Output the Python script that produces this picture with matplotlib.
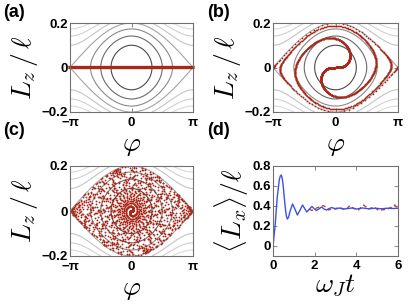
import numpy as np
import matplotlib
matplotlib.use('Agg')
import matplotlib.pyplot as plt

plt.rcParams['mathtext.fontset'] = 'cm'

# pendulum model: dphi/dt = Lz/I , dLz/dt = -J sin(phi)   (omega_J = 1)
I_mom = 0.1
J_cpl = 0.1
n_pts = 1500
t_b = 4 * np.pi     # snapshot (b)
t_c = 600.0         # snapshot (c)
levels = [-3, -2, -1, 0, 1, 2, 3]
level_grays = ['#4a4a4a', '#6a6a6a', '#8a8a8a', '#a4a4a4', '#c4c4c4', '#d0d0d0', '#dadada']

# panel (d)
t_blue = [0, 0.1, 0.2, 0.3, 0.35, 0.40, 0.45, 0.5, 0.58, 0.64, 0.69, 0.75, 0.82, 0.94,
          1.05, 1.17, 1.3, 1.42, 1.52, 1.62, 1.75, 1.87, 1.97, 2.08, 2.2, 2.33, 2.45,
          2.57, 2.7, 2.82, 3.0, 3.2, 3.4, 3.6, 3.8, 4.0, 4.3, 4.6, 4.9, 5.2, 5.5, 5.8, 6.0]
lx_blue = [0, 0.2, 0.48, 0.66, 0.70, 0.71, 0.67, 0.58, 0.40, 0.30, 0.27, 0.29, 0.35, 0.42,
           0.37, 0.31, 0.36, 0.41, 0.375, 0.34, 0.37, 0.395, 0.375, 0.355, 0.37, 0.39, 0.37,
           0.36, 0.375, 0.385, 0.37, 0.38, 0.37, 0.375, 0.38, 0.37, 0.38, 0.372, 0.378,
           0.372, 0.378, 0.375, 0.378]
t_red = [1.75, 1.85, 2.0, 2.15, 2.26, 2.42, 2.55, 2.66, 2.8, 3.0, 3.2, 3.35, 3.5, 3.7,
         3.8, 3.95, 4.1, 4.25, 4.35, 4.5, 4.6, 4.83, 4.95, 5.07, 5.2, 5.39, 5.55, 5.71,
         5.84, 5.92, 6.0]
lx_red = [0.37, 0.355, 0.37, 0.385, 0.39, 0.405, 0.385, 0.36, 0.37, 0.375, 0.385, 0.37,
          0.365, 0.405, 0.385, 0.37, 0.36, 0.39, 0.41, 0.385, 0.37, 0.39, 0.375, 0.355,
          0.36, 0.365, 0.375, 0.39, 0.41, 0.39, 0.42]

red = '#a8281a'
blue = '#3c50e6'
tick_font = {'family': 'Liberation Sans', 'weight': 'bold', 'size': 9.5}


def evolve(phi, lz, T, dt=0.02):
    n = int(round(T / dt))
    for _ in range(n):
        lz -= 0.5 * dt * J_cpl * np.sin(phi)
        phi += dt * lz / I_mom
        lz -= 0.5 * dt * J_cpl * np.sin(phi)
    return phi, lz


phi0 = np.linspace(-np.pi, np.pi, n_pts)
lz0 = np.zeros(n_pts)
phi_b, lz_b = evolve(phi0.copy(), lz0.copy(), t_b)
phi_c, lz_c = evolve(phi_b.copy(), lz_b.copy(), t_c - t_b)

pp, ll = np.meshgrid(np.linspace(-np.pi, np.pi, 300), np.linspace(-0.2, 0.2, 300))
energy = (ll / np.sqrt(I_mom * J_cpl)) ** 2 - 2 * (1 + np.cos(pp))

fig = plt.figure(figsize=(4.15, 3.07), dpi=100)
W, H = 415.0, 307.0
def add_ax(l, t, w, h):
    return fig.add_axes([l / W, 1 - (t + h) / H, w / W, h / H])

ax_a = add_ax(70, 23, 123, 89)
ax_b = add_ax(273, 23, 125, 89)
ax_c = add_ax(70, 166, 123, 90)
ax_d = add_ax(273, 166, 125, 90)


def style(ax, xpad=1.5):
    for s in ax.spines.values():
        s.set_color('#707070')
        s.set_linewidth(0.8)
    ax.tick_params(direction='in', length=3, width=0.6, color='#707070',
                   top=True, right=True, pad=1.5)
    ax.tick_params(axis='x', pad=xpad)
    for lab in ax.get_xticklabels() + ax.get_yticklabels():
        lab.set_fontproperties(matplotlib.font_manager.FontProperties(**tick_font))


for ax in (ax_a, ax_b, ax_c):
    ax.contour(pp, ll, energy, levels=levels, colors=level_grays, linewidths=0.8)
    ax.set_xlim(-np.pi, np.pi)
    ax.set_ylim(-0.2, 0.2)
    ax.set_xticks([-np.pi, 0, np.pi])
    ax.set_xticklabels(['\u2212\u03c0', '0', '\u03c0'])
    ax.set_yticks([-0.2, 0, 0.2])
    ax.set_yticklabels(['\u22120.2', '0', '0.2'])
    ax.set_xlabel(r'$\varphi$', fontsize=20, labelpad=1)
    ax.set_ylabel(r'$L_z\,/\,\ell$', fontsize=20, labelpad=1)
    style(ax, xpad=3.5)

ax_a.plot(phi0, lz0, '-', color=red, lw=2.4, clip_on=False)
ax_b.plot(phi_b, lz_b, '.', color=red, ms=2.4, mew=0)
ax_c.plot(phi_c, lz_c, '.', color=red, ms=2.6, mew=0)

ax_d.plot(t_red, lx_red, '--', color='#c8482a', lw=1.0, dashes=(3, 2))
ax_d.plot(t_blue, lx_blue, '-', color=blue, lw=1.0)
ax_d.set_xlim(0, 6)
ax_d.set_ylim(-0.1, 0.8)
ax_d.set_xticks([0, 2, 4, 6])
ax_d.set_xticklabels(['0', '2', '4', '6'])
ax_d.set_yticks([0, 0.2, 0.4, 0.6, 0.8])
ax_d.set_yticklabels(['0', '0.2', '0.4', '0.6', '0.8'])
ax_d.set_xlabel(r'$\omega_J t$', fontsize=20, labelpad=-1)
ax_d.set_ylabel(r'$\langle L_x\rangle/\ell$', fontsize=20, labelpad=1)
style(ax_d, xpad=3)

for lab, x, y in [('(a)', 3, 4), ('(b)', 207, 4), ('(c)', 3, 122), ('(d)', 207, 122)]:
    fig.text(x / W, 1 - y / H, lab, fontsize=13, fontweight='bold',
             family='Liberation Sans', va='top', ha='left')

plt.savefig('out.png', dpi=100)
